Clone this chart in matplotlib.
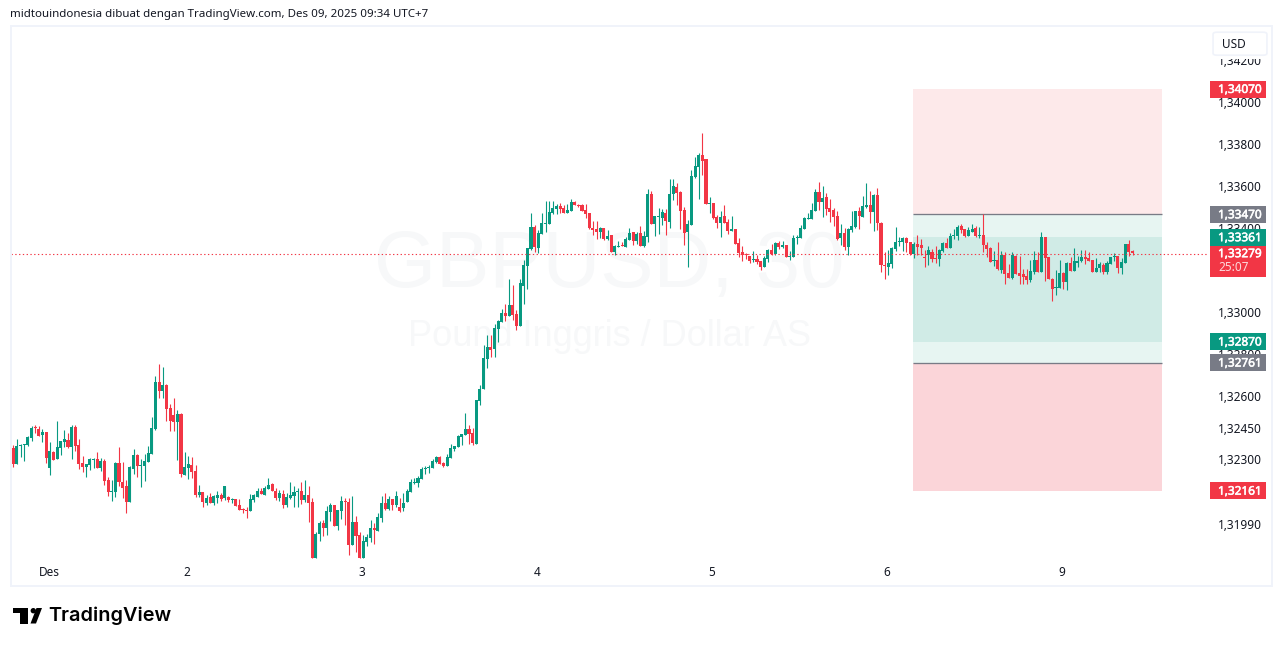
import matplotlib
matplotlib.use('Agg')
import matplotlib.pyplot as plt
import matplotlib.patheffects as pe
import numpy as np
from matplotlib.patches import Rectangle, Polygon, FancyBboxPatch

# prices are kept as points above 1.30000
highs = [2366,2395,2371,2371,2409,2457,2462,2457,2443,2429,
    2380,2338,2481,2385,2438,2424,2462,2462,2395,2314,
    2276,2305,2305,2333,2305,2300,2214,2200,2286,2357,
    2286,2200,2267,2348,2324,2300,2324,2361,2500,2695,
    2752,2738,2657,2562,2590,2533,2519,2333,2314,2310,
    2271,2176,2143,2128,2138,2128,2147,2138,2171,2124,
    2114,2109,2109,2067,2071,2133,2133,2162,2162,2171,
    2210,2186,2162,2152,2152,2138,2190,2171,2162,2190,
    2200,2171,2114,1952,2005,2009,2076,2090,2081,2057,
    2124,2114,2114,2124,2029,1952,1938,1943,2009,1995,
    2043,2124,2138,2124,2109,2147,2114,2138,2157,2205,
    2210,2219,2262,2267,2271,2300,2314,2314,2286,2324,
    2371,2361,2414,2419,2519,2462,2448,2581,2652,2843,
    2890,2890,2943,2962,3014,3038,3157,3128,3009,3157,
    3247,3304,3471,3414,3390,3471,3528,3528,3528,3514,
    3519,3509,3514,3538,3528,3514,3514,3514,3471,3433,
    3433,3404,3400,3390,3366,3319,3338,3333,3357,3400,
    3381,3381,3409,3385,3585,3576,3457,3495,3490,3490,
    3633,3633,3614,3576,3500,3438,3676,3738,3757,3852,
    3728,3547,3519,3461,3481,3509,3443,3457,3395,3352,
    3314,3281,3266,3290,3271,3242,3266,3300,3324,3333,
    3338,3338,3319,3290,3366,3366,3414,3452,3471,3519,
    3585,3619,3600,3566,3538,3495,3481,3419,3400,3400,
    3481,3481,3500,3552,3614,3576,3562,3590,3428,3285,
    3295,3309,3404,3357,3357,3357,3333,3333,3366,3347,
    3295,3314,3300,3314,3300,3333,3352,3376,3395,3414,
    3419,3395,3404,3419,3409,3404,3466,3333,3309,3290,
    3333,3290,3285,3228,3285,3271,3266,3205,3205,3248,
    3290,3285,3381,3357,3262,3162,3200,3248,3190,3238,
    3262,3305,3266,3295,3295,3285,3248,3257,3238,3233,
    3243,3262,3281,3266,3257,3324,3343,3295]
lows = [2262,2276,2310,2290,2361,2385,2424,2409,2380,2281,
    2224,2295,2300,2319,2357,2352,2300,2338,2252,2238,
    2214,2248,2257,2257,2243,2176,2123,2100,2119,2171,
    2114,2043,2095,2229,2214,2167,2195,2286,2324,2438,
    2590,2590,2481,2433,2433,2295,2214,2224,2205,2210,
    2119,2119,2071,2081,2090,2081,2090,2100,2105,2095,
    2090,2076,2057,2043,2019,2052,2095,2119,2133,2128,
    2157,2147,2105,2100,2067,2071,2109,2071,2071,2086,
    2095,2000,1829,1829,1909,1933,1938,2005,1981,1962,
    2014,1986,1843,1891,1857,1829,1829,1886,1905,1895,
    1957,2000,2057,2057,2057,2071,2048,2052,2095,2143,
    2181,2167,2205,2229,2233,2257,2281,2276,2262,2267,
    2305,2338,2357,2366,2414,2371,2366,2371,2557,2633,
    2733,2787,2786,2857,2952,2957,2981,2962,2914,2933,
    3038,3109,3295,3285,3281,3371,3381,3419,3466,3466,
    3471,3471,3471,3481,3509,3500,3481,3447,3395,3366,
    3348,3352,3343,3343,3285,3271,3309,3314,3309,3343,
    3319,3324,3314,3309,3333,3419,3362,3371,3414,3366,
    3400,3533,3509,3395,3319,3214,3414,3638,3538,3652,
    3514,3471,3443,3400,3357,3424,3371,3385,3324,3262,
    3242,3252,3233,3238,3228,3200,3214,3238,3271,3271,
    3300,3304,3262,3247,3262,3324,3352,3395,3443,3443,
    3481,3485,3452,3462,3428,3409,3343,3319,3295,3271,
    3381,3400,3395,3452,3495,3424,3385,3390,3190,3157,
    3176,3209,3290,3314,3290,3285,3271,3257,3271,3271,
    3214,3224,3238,3233,3219,3285,3305,3305,3347,3343,
    3376,3357,3362,3381,3357,3352,3285,3262,3238,3219,
    3200,3186,3133,3162,3157,3181,3133,3133,3133,3143,
    3181,3190,3190,3148,3157,3052,3081,3114,3109,3104,
    3195,3195,3214,3238,3228,3243,3190,3190,3190,3181,
    3181,3228,3243,3186,3181,3233,3266,3271]
opens = [2352,2276,2361,2366,2366,2400,2452,2443,2414,2429,
    2257,2333,2300,2352,2380,2390,2357,2452,2366,2281,
    2262,2271,2295,2300,2257,2290,2200,2143,2143,2281,
    2190,2171,2095,2252,2319,2267,2267,2286,2324,2443,
    2667,2624,2652,2543,2509,2476,2514,2224,2257,2271,
    2243,2128,2143,2090,2119,2090,2114,2128,2114,2119,
    2105,2109,2081,2062,2057,2052,2105,2119,2147,2128,
    2157,2181,2147,2114,2133,2081,2114,2124,2143,2147,
    2105,2128,2095,1829,1943,1995,1971,2048,2081,1981,
    2052,2100,2095,1891,2000,1938,1829,1905,1924,1971,
    1957,2019,2090,2062,2109,2081,2071,2067,2095,2143,
    2186,2186,2205,2252,2257,2257,2286,2310,2281,2267,
    2305,2348,2357,2405,2414,2443,2424,2371,2576,2633,
    2778,2833,2824,2919,2952,2995,2981,3033,2990,2933,
    3124,3219,3300,3404,3304,3371,3419,3419,3471,3490,
    3505,3495,3471,3481,3524,3509,3509,3485,3471,3400,
    3395,3381,3400,3348,3366,3285,3309,3319,3309,3343,
    3381,3338,3376,3314,3357,3562,3419,3452,3447,3471,
    3428,3562,3595,3571,3485,3381,3414,3643,3690,3748,
    3728,3514,3519,3452,3424,3457,3428,3385,3395,3328,
    3285,3276,3266,3247,3252,3242,3214,3252,3295,3276,
    3328,3309,3319,3262,3262,3352,3352,3395,3443,3443,
    3481,3571,3524,3547,3495,3485,3457,3352,3376,3309,
    3390,3404,3481,3452,3500,3509,3476,3557,3424,3224,
    3214,3228,3300,3333,3333,3352,3333,3276,3324,3319,
    3262,3271,3285,3257,3252,3290,3328,3305,3362,3362,
    3409,3395,3362,3381,3400,3362,3366,3319,3305,3243,
    3248,3200,3271,3186,3162,3266,3186,3181,3171,3152,
    3190,3248,3190,3357,3262,3157,3114,3114,3186,3143,
    3233,3195,3233,3243,3262,3257,3248,3190,3209,3224,
    3190,3228,3262,3266,3209,3233,3324,3290]
closes = [2276,2361,2366,2371,2405,2448,2448,2409,2429,2305,
    2338,2295,2357,2385,2395,2357,2452,2361,2276,2262,
    2276,2300,2300,2257,2290,2195,2143,2147,2281,2190,
    2162,2095,2262,2319,2267,2271,2290,2329,2448,2667,
    2624,2652,2538,2481,2476,2514,2229,2262,2276,2238,
    2128,2143,2095,2114,2090,2124,2128,2109,2171,2105,
    2109,2076,2057,2057,2052,2109,2128,2147,2133,2162,
    2176,2147,2114,2138,2081,2119,2128,2143,2147,2105,
    2128,2090,1829,1943,1995,1971,2052,2081,1981,2057,
    2100,2095,1891,2000,1933,1829,1909,1929,1971,1962,
    2024,2090,2062,2109,2081,2124,2052,2090,2147,2190,
    2190,2210,2252,2257,2262,2290,2310,2276,2267,2310,
    2352,2361,2409,2419,2443,2419,2376,2581,2633,2781,
    2833,2819,2924,2957,2995,2981,3033,2986,2933,3138,
    3224,3304,3404,3309,3376,3424,3424,3476,3495,3505,
    3490,3471,3485,3524,3509,3505,3481,3466,3400,3390,
    3381,3400,3348,3362,3285,3314,3314,3314,3348,3376,
    3338,3371,3314,3362,3562,3419,3457,3457,3476,3433,
    3562,3600,3566,3481,3376,3419,3647,3695,3748,3719,
    3514,3519,3447,3424,3452,3424,3385,3395,3324,3281,
    3271,3271,3242,3252,3238,3214,3257,3295,3276,3328,
    3309,3319,3262,3266,3352,3357,3400,3447,3447,3485,
    3571,3524,3543,3490,3476,3452,3348,3376,3309,3395,
    3409,3481,3457,3505,3509,3476,3557,3424,3224,3219,
    3233,3304,3333,3338,3352,3328,3276,3324,3309,3305,
    3257,3295,3252,3252,3295,3328,3305,3362,3366,3404,
    3390,3362,3390,3395,3362,3366,3319,3300,3238,3248,
    3205,3271,3181,3162,3271,3181,3171,3167,3152,3195,
    3248,3190,3357,3257,3157,3109,3119,3186,3143,3233,
    3195,3243,3243,3262,3252,3243,3190,3209,3228,3190,
    3233,3262,3266,3209,3238,3324,3285,3279]

tick_prices = [1.342, 1.340, 1.338, 1.336, 1.334, 1.330, 1.328, 1.326, 1.3245, 1.323, 1.3199]
tick_labels = ['1,34200', '1,34000', '1,33800', '1,33600', '1,33400', '1,33000',
               '1,32800', '1,32600', '1,32450', '1,32300', '1,31990']
day_bars = [10.0, 47.6, 95.6, 143.6, 191.6, 239.6, 287.6]
day_labels = ['Des', '2', '3', '4', '5', '6', '9']

# the two position tools, top to bottom
zone_prices = [1.34062, 1.33465, 1.33356, 1.32859, 1.32759, 1.32149]
zone_labels = ['1,34070', '1,33470', '1,33361', '1,32870', '1,32761', '1,32161']
zone_start = 246.8
zone_end = 315.0
last_price = 1.33276

GREEN = '#089981'
RED = '#F23645'
GREY = '#787B86'
TEXT = '#131722'
FRAME = '#F0F3FA'
W, H = 1281, 646

plt.rcParams['font.family'] = ['Noto Sans', 'DejaVu Sans']

def fx(x):
    return x / W

def fy(y):
    return 1 - y / H

fig = plt.figure(figsize=(W / 100, H / 100), dpi=100, facecolor='white')
ax = fig.add_axes([fx(11), fy(559), fx(1208 - 11), (559 - 26) / H])
ax.set_xlim(-0.63, 327.7)
ax.set_ylim(1.31824, 1.34362)
for s in ax.spines.values():
    s.set_visible(False)

# watermark
ax.text(0.4996, 1.33219, 'GBPUSD, 30', transform=ax.get_yaxis_transform(), ha='center', va='center',
        fontsize=57.5, family='Liberation Sans', color='#F7F8F9', zorder=0)
ax.text(0.4996, 1.32885, 'Pound Inggris / Dollar AS', transform=ax.get_yaxis_transform(), ha='center', va='center',
        fontsize=26, family='Liberation Sans', color='#F7F8F9', zorder=0)

# position tools
zone_colors = ['#FDE9EA', '#E7F5F2', '#D0EBE6', '#E7F5F2', '#FBD5D9']
for top, bottom, color in zip(zone_prices[:-1], zone_prices[1:], zone_colors):
    ax.fill_between([zone_start, zone_end], bottom, top, color=color, lw=0, zorder=1)
ax.hlines([zone_prices[1], zone_prices[4]], zone_start, zone_end, color=GREY, lw=0.95, zorder=1.5)

# candles
x = np.arange(len(opens))
o = 1.3 + np.array(opens) * 1e-5
h = 1.3 + np.array(highs) * 1e-5
l = 1.3 + np.array(lows) * 1e-5
c = 1.3 + np.array(closes) * 1e-5
colors = np.where(c >= o, GREEN, RED)
ax.vlines(x, l, h, colors=colors, lw=0.8, zorder=3)
ax.bar(x, np.maximum(np.abs(c - o), 0.00006), bottom=np.minimum(o, c), width=0.84, color=colors, lw=0, zorder=3)

ax.axhline(last_price, color=RED, lw=0.8, ls=(0, (1.2, 2.2)), zorder=4)

ax.yaxis.tick_right()
ax.set_yticks(tick_prices)
ax.set_yticklabels(tick_labels, fontsize=8.5, color=TEXT)
ax.set_xticks(day_bars)
ax.set_xticklabels(day_labels, fontsize=8.5, color=TEXT)
ax.tick_params(axis='y', length=0, pad=7.4)
ax.tick_params(axis='x', length=0, pad=5.2)

# outer frame
fig.add_artist(Rectangle((fx(10.5), fy(586)), fx(1261), (586 - 25.5) / H, fill=False, ec=FRAME, lw=1.4,
                         transform=fig.transFigure, zorder=1))

def price_to_y(price):
    return H - ax.transData.transform((0, price))[1]

def pill(top, bottom, color):
    fig.add_artist(Rectangle((fx(1210), fy(bottom)), fx(56), (bottom - top) / H, fc=color, ec='none',
                             transform=fig.transFigure, zorder=5))

def pill_text(y, s, color='white', bold=True):
    t = fig.text(fx(1218), fy(y), s, color=color, fontsize=8.5, va='center', ha='left', zorder=6)
    if bold:
        t.set_path_effects([pe.withStroke(linewidth=0.4, foreground=color)])

zone_pill_colors = [RED, GREY, GREEN, GREEN, GREY, RED]
for price, label, color in zip(zone_prices, zone_labels, zone_pill_colors):
    yc = price_to_y(price)
    pill(yc - 8.5, yc + 8.5, color)
    pill_text(yc + 0.4, label)

# last price with countdown
yc = price_to_y(zone_prices[2])
pill(yc + 8.5, yc + 39.5, RED)
pill_text(yc + 16.4, '1,33279')
pill_text(yc + 30.4, '25:07', color='#FDD9DC', bold=False)

# currency button, its white surround hides the top tick label's upper half
fig.add_artist(Rectangle((fx(1210), fy(59)), fx(60), 31 / H, fc='white', ec='none', transform=fig.transFigure, zorder=4))
fig.add_artist(FancyBboxPatch((fx(1216), fy(53.7)), fx(48), 20 / H, boxstyle='round,pad=0.0023,rounding_size=0.003',
                              fc='white', ec=FRAME, lw=1.2, transform=fig.transFigure, zorder=5))
fig.text(fx(1222), fy(45), 'USD', color=TEXT, fontsize=8.5, va='center', ha='left', zorder=6)

# header and logo
fig.text(fx(10), fy(14), 'midtouindonesia dibuat dengan TradingView.com, Des 09, 2025 09:34 UTC+7',
         color=TEXT, fontsize=8.3, va='center', ha='left')

def logo_poly(points):
    pts = [(fx(px), fy(py)) for px, py in points]
    fig.add_artist(Polygon(pts, closed=True, fc='black', ec='none', transform=fig.transFigure))

logo_poly([(12.7, 608), (28.3, 608), (28.3, 623.5), (20, 623.5), (20, 613), (12.7, 613)])
logo_poly([(36.5, 608), (42, 608), (36, 623.5), (30.5, 623.5)])
logo_poly([(33.3 + 2.7 * np.cos(t), 610.7 + 2.7 * np.sin(t)) for t in np.linspace(0, 2 * np.pi, 24)])
fig.text(fx(48), fy(615.5), 'TradingView', color='black', fontsize=14.3, family='Inter', weight='semibold', va='center', ha='left')

fig.savefig('out.png', dpi=100)
